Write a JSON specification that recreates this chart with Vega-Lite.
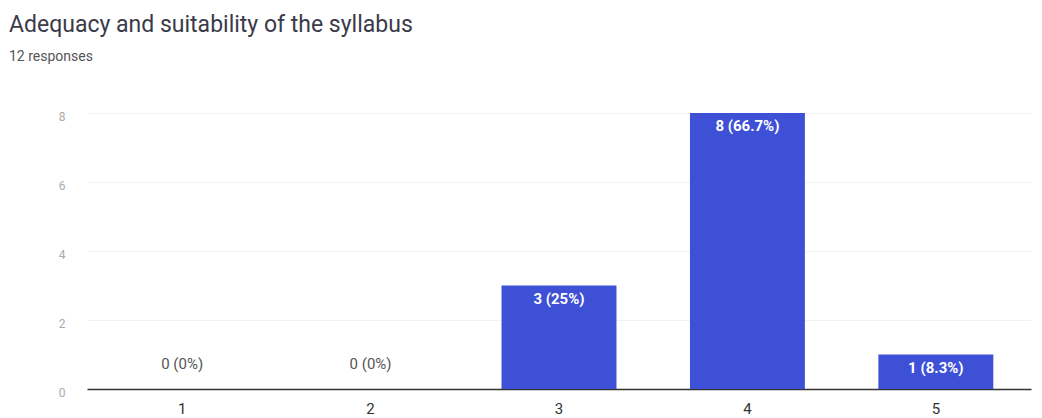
{
  "$schema": "https://vega.github.io/schema/vega-lite/v6.json",
  "autosize": "none",
  "width": 944,
  "height": 276,
  "padding": {"left": 87, "top": 113, "right": 11, "bottom": 29},
  "background": "white",
  "title": {
    "text": "Adequacy and suitability of the syllabus",
    "subtitle": "12 responses",
    "anchor": "start",
    "frame": "group",
    "dx": -78,
    "offset": 46,
    "font": "Roboto",
    "fontSize": 23,
    "fontWeight": "normal",
    "color": "#3a3a4a",
    "subtitleFont": "Roboto",
    "subtitleFontSize": 14,
    "subtitleColor": "#555",
    "subtitlePadding": 13,
    "subtitleLineHeight": 15
  },
  "data": {
    "values": [
      {"rating": "1", "count": 0, "label": "0 (0%)"},
      {"rating": "2", "count": 0, "label": "0 (0%)"},
      {"rating": "3", "count": 3, "label": "3 (25%)"},
      {"rating": "4", "count": 8, "label": "8 (66.7%)"},
      {"rating": "5", "count": 1, "label": "1 (8.3%)"}
    ]
  },
  "encoding": {
    "x": {
      "field": "rating",
      "type": "ordinal",
      "scale": {"paddingInner": 0.39, "paddingOuter": 0.2},
      "axis": {
        "title": null,
        "labelAngle": 0,
        "labelFont": "Roboto",
        "labelFontSize": 15,
        "labelColor": "#333",
        "labelPadding": 12,
        "ticks": false,
        "domainColor": "#333",
        "domainWidth": 1.5
      }
    },
    "y": {
      "field": "count",
      "type": "quantitative",
      "scale": {"domain": [0, 8], "nice": false},
      "axis": {
        "title": null,
        "values": [0, 2, 4, 6, 8],
        "labelFont": "Roboto",
        "labelFontSize": 12,
        "labelColor": "#aaa",
        "labelPadding": 22,
        "labelOffset": 3,
        "ticks": false,
        "domain": false,
        "grid": true,
        "gridColor": "#f2f2f6",
        "gridWidth": 1
      }
    }
  },
  "layer": [
    {"mark": {"type": "bar", "color": "#3d50d6"}},
    {
      "transform": [{"filter": "datum.count > 0"}],
      "mark": {"type": "text", "baseline": "top", "dy": 6, "color": "white", "font": "Roboto", "fontSize": 15, "fontWeight": "bold"},
      "encoding": {"text": {"field": "label"}}
    },
    {
      "transform": [{"filter": "datum.count == 0"}],
      "mark": {"type": "text", "baseline": "bottom", "dy": -17, "color": "#555", "font": "Roboto", "fontSize": 15},
      "encoding": {"text": {"field": "label"}}
    }
  ],
  "config": {"view": {"stroke": null}}
}
